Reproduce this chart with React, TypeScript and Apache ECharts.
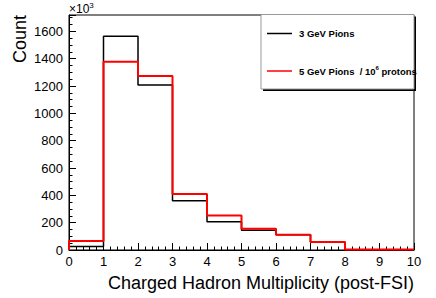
import { useEffect, useRef } from "react";
import * as echarts from "echarts";

// Histogram bin edges (Charged Hadron Multiplicity, post-FSI)
const binEdges = [0, 1, 2, 3, 4, 5, 6, 7, 8, 9, 10];
// Bin contents (x10^3 counts)
const pions3GeV = [25, 1565, 1208, 360, 207, 145, 112, 58, 2, 1];
const pions5GeV = [65, 1378, 1273, 410, 252, 155, 112, 58, 4, 3];
const seriesNames = ["3 GeV Pions", "5 GeV Pions  / 10{sup|6} protons"];
const seriesColors = ["#000000", "#ff0000"];

const FONT = "'Liberation Sans', Arial, Helvetica, sans-serif";

function stepPoints(values: number[]): number[][] {
  const pts: number[][] = [[binEdges[0], 0]];
  values.forEach((v, i) => {
    pts.push([binEdges[i], v]);
    pts.push([binEdges[i + 1], v]);
  });
  pts.push([binEdges[binEdges.length - 1], 0]);
  return pts;
}

export default function App() {
  const ref = useRef<HTMLDivElement>(null);
  useEffect(() => {
    if (!ref.current) return;
    const chart = echarts.init(ref.current, undefined, { renderer: "svg" });
    const gridLeft = 69;
    const gridTop = 15;
    const gridRight = 22;
    const gridBottom = 48;
    const legX = 261;
    const legY = 14.5;
    const legW = 153;
    const legH = 74.5;
    chart.setOption({
      animation: false,
      backgroundColor: "#ffffff",
      grid: {
        left: gridLeft,
        right: gridRight,
        top: gridTop,
        bottom: gridBottom,
        show: true,
        borderColor: "#000",
        borderWidth: 1,
        backgroundColor: "transparent",
      },
      xAxis: {
        type: "value",
        min: 0,
        max: 10,
        interval: 1,
        axisLine: { show: true, lineStyle: { color: "#000", width: 1 } },
        axisTick: { show: true, inside: true, length: 7, lineStyle: { color: "#000" } },
        minorTick: { show: true, splitNumber: 5, length: 3.5, lineStyle: { color: "#000" } },
        splitLine: { show: false },
        axisLabel: { color: "#000", fontSize: 13, fontFamily: FONT, margin: 5, formatter: (v: number) => String(v) },
      },
      yAxis: {
        type: "value",
        min: 0,
        max: 1720,
        interval: 200,
        axisLine: { show: true, lineStyle: { color: "#000", width: 1 } },
        axisTick: { show: true, inside: true, length: 7, lineStyle: { color: "#000" } },
        minorTick: { show: true, splitNumber: 4, length: 3.5, lineStyle: { color: "#000" } },
        splitLine: { show: false },
        axisLabel: {
          color: "#000",
          fontSize: 13,
          fontFamily: FONT,
          margin: 6,
          showMaxLabel: false,
          formatter: (v: number) => String(v),
        },
      },
      series: [
        {
          name: "3 GeV Pions",
          type: "line",
          data: stepPoints(pions3GeV),
          showSymbol: false,
          symbol: "none",
          lineStyle: { color: seriesColors[0], width: 1.5 },
          z: 2,
        },
        {
          name: "5 GeV Pions / 10^6 protons",
          type: "line",
          data: stepPoints(pions5GeV),
          showSymbol: false,
          symbol: "none",
          lineStyle: { color: seriesColors[1], width: 2 },
          z: 3,
        },
      ],
      graphic: [
        {
          type: "text",
          x: 20,
          y: 15,
          rotation: Math.PI / 2,
          style: { text: "Count", fontSize: 18, fontFamily: FONT, fill: "#000", align: "right", verticalAlign: "middle" },
        },
        {
          type: "text",
          x: 414,
          y: 283,
          style: {
            text: "Charged Hadron Multiplicity (post-FSI)",
            fontSize: 18,
            fontFamily: FONT,
            fill: "#000",
            align: "right",
            verticalAlign: "middle",
          },
        },
        {
          type: "text",
          x: 69,
          y: 9,
          style: {
            text: "×10{sup|3}",
            fontSize: 12,
            fontFamily: FONT,
            fill: "#000",
            align: "left",
            verticalAlign: "middle",
            rich: { sup: { fontSize: 8, fontFamily: FONT, fill: "#000", verticalAlign: "top", padding: [0, 0, 8, 0] } },
          },
        },
        {
          type: "rect",
          z: 10,
          shape: { x: legX + 2, y: legY + 2, width: legW, height: legH },
          style: { fill: "#000" },
        },
        {
          type: "rect",
          z: 11,
          shape: { x: legX, y: legY, width: legW, height: legH },
          style: { fill: "#fff", stroke: "#999", lineWidth: 1 },
        },
        ...seriesNames.flatMap((name, i) => {
          const yy = i === 0 ? 33.5 : 71;
          return [
            {
              type: "line",
              z: 12,
              shape: { x1: 267, y1: yy, x2: 292, y2: yy },
              style: { stroke: seriesColors[i], lineWidth: 1.5 },
            },
            {
              type: "text",
              z: 12,
              x: 299,
              y: yy,
              style: {
                text: name,
                fontSize: 9.5,
                fontWeight: "bold",
                fontFamily: FONT,
                fill: "#000",
                align: "left",
                verticalAlign: "middle",
                rich: { sup: { fontSize: 6, fontWeight: "bold", fontFamily: FONT, fill: "#000", padding: [0, 0, 6, 0] } },
              },
            },
          ];
        }),
      ],
    });
    return () => chart.dispose();
  }, []);
  return (
    <div
      ref={ref}
      style={{ position: "absolute", left: 0, top: 0, width: 436, height: 298, background: "#fff" }}
    />
  );
}
